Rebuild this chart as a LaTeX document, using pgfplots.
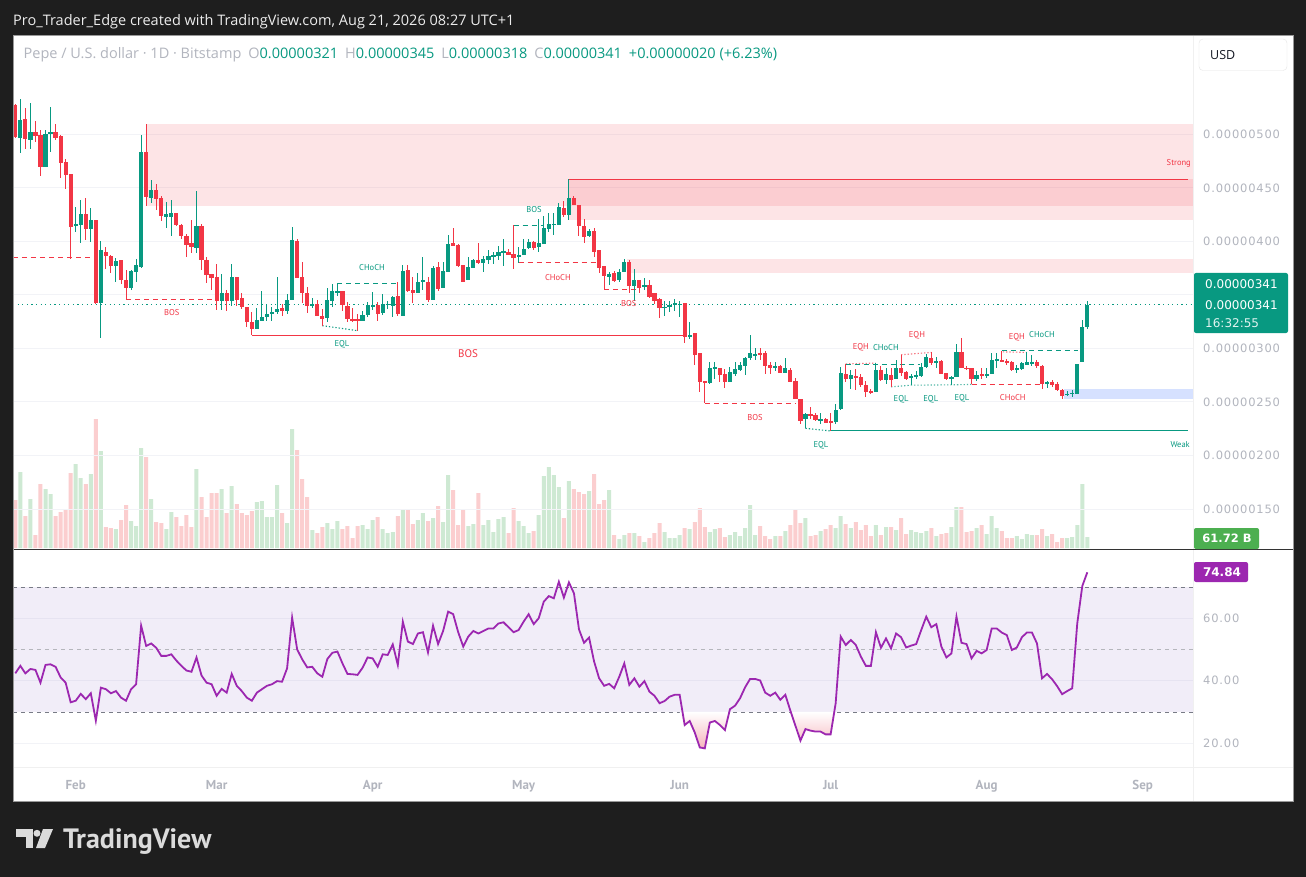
\documentclass[border=0pt]{standalone}
\usepackage{fontspec}
\setmainfont{PT Sans}
\newfontfamily\hdrf{Open Sans}
\newfontfamily\scalef{DejaVu Sans}[LetterSpace=7]
\newfontfamily\numf{DejaVu Sans}
\usepackage{pgfplots}
\usepackage{pgfplotstable}
\pgfplotsset{compat=1.18}
\definecolor{bgdark}{RGB}{30,30,30}
\definecolor{tvup}{RGB}{8,153,129}
\definecolor{tvdn}{RGB}{242,54,69}
\definecolor{volup}{RGB}{206,233,211}
\definecolor{voldn}{RGB}{251,206,207}
\definecolor{scaleg}{RGB}{178,181,190}
\definecolor{gridc}{RGB}{242,243,247}
\definecolor{rsic}{RGB}{156,39,176}
\definecolor{bandc}{RGB}{126,87,194}
\definecolor{dashg}{RGB}{120,123,134}
\definecolor{volg}{RGB}{76,175,80}
\definecolor{txtdark}{RGB}{19,23,34}
\definecolor{logoc}{RGB}{219,219,219}
\definecolor{zoneblue}{RGB}{41,98,255}
\definecolor{osred}{RGB}{246,180,188}

\pgfplotstableread{
d o h l c v
-11 496.9 533.2 482.8 513.5 76
-9 495 529.1 486.3 502.2 49
-6 469.7 504 469.7 500.3 59
-5 500 525.7 483.8 502.2 54
0 414.4 432.2 408.8 416 84
1 415 438.5 398.5 425.4 70
3 411.6 431 399.4 419.7 74
5 342.2 400.4 309.4 391.6 97
8 376.9 384.7 361.9 381.3 19
11 356.3 373 355 371.9 27
12 371.3 383.8 361.9 377.5 22
13 376 499.4 375 483.5 100
15 441 457.2 436.3 447.8 49
18 422.8 437 412.5 426 19
19 422.8 439 405 426.3 36
24 393.8 446.9 389.1 414.1 79
29 344.7 370 336.3 352.2 59
31 344.7 378.8 339.4 366.3 62
36 317.9 338.2 317.9 326.6 46
37 325.4 353.2 325.4 329.7 47
38 329.1 341.6 325.4 332.5 31
39 332.9 339.1 326 333.8 31
40 333.8 367.2 332.2 336.9 63
42 334.7 351 332.2 345.7 25
43 345.7 413.5 345.7 401 119
47 340.5 346.9 337.5 341.3 18
50 328.2 356.9 325 345.7 25
51 344.7 360.4 338.5 353.2 19
52 352.5 360.4 349.4 353.2 27
57 326 335.4 326 331.3 23
58 331.3 343.8 329.7 340.7 19
59 339.1 352.5 336 340.7 28
61 332.9 351 331.3 341.6 19
62 340.7 344.7 336.9 341.6 15
63 340 349.4 329.1 348.5 16
65 330.7 377.5 330.7 371.9 39
68 351.6 370.4 351.6 362.5 28
69 361.9 385.4 354.7 363.5 35
71 345.7 376.9 345.7 375 30
73 356.3 380.4 356.3 371.9 26
74 371 405.7 371 397.9 73
78 363.5 385 363.5 376 22
79 375 383.8 375 382.2 24
81 379.7 386 371 383.2 23
82 382.9 392.2 379.1 386 28
83 386 390 379.1 386.9 16
84 386.3 395.7 382.2 389.7 29
85 389.7 401.9 376.6 390.7 31
88 385 394.7 380 386.9 27
89 386.9 401.9 386.9 392.5 22
90 393.8 401.9 392.5 399.4 15
92 394.7 421.3 390 398.5 33
93 397.9 423.5 397.9 412.5 72
94 411.9 426.9 408.8 416.6 81
95 415.7 426.9 406.3 416.3 73
96 415.7 435.4 415.7 432.2 61
98 425 457.9 420.4 441 67
102 405 411.3 404.1 409.4 57
106 366.6 371.3 359.4 369.4 58
108 363.5 374.4 361.9 371 9
109 371 383.5 371 380.4 13
111 358.8 373.8 344.7 363.5 15
113 357.2 366 355 359.7 6
117 337.5 344.7 330.7 339.1 16
118 338.5 344.7 333.8 340.7 10
119 340.7 346 335.4 342.2 10
120 341 344.7 329.7 341.6 13
122 311.3 325 308.8 312.5 19
126 267.5 286.9 266.6 281.3 16
127 281.6 286.9 271.3 282.2 19
130 269.1 282.9 269.1 278.2 13
131 276 286.9 274.4 280.7 16
132 280.1 287.5 279.1 284.7 12
133 283.8 291.6 275.4 290.7 20
134 290.7 312.8 289.1 295.4 43
135 293.8 300.7 289.1 294.7 13
139 282.2 286.9 278.5 283.8 12
141 277.5 290.7 277.5 281.3 17
145 234.4 240 225.4 238.5 30
148 233.2 240 229.1 233.8 17
151 231.3 248.5 229.1 242.2 20
152 243.8 282.9 242.9 277.2 32
154 271.9 279.7 262.5 275.4 20
159 259.4 286.3 259.4 280.1 23
161 270.4 282.2 267.2 276 21
163 271.3 289.4 271.3 281.3 18
166 272.2 276 265.7 274.4 18
167 272.9 279.1 271.3 275.1 16
168 274.4 286 273.5 282.9 15
169 282.9 294.7 281.6 291.6 17
171 286.9 291.6 282.2 288.5 12
174 271.3 274.4 266 273.5 21
175 272.9 304.1 272.9 296.9 41
179 271.9 279.1 269.7 275.4 20
181 274 281.6 272 276.6 14
182 276.6 295.9 276.6 289.1 32
183 289.1 295.9 282.2 289.7 20
187 280.4 284.7 277.5 281.3 12
188 280.7 286.9 280.1 286 9
189 284.4 296.3 284.4 286.9 14
190 286.3 293.8 283.8 286.9 13
193 266.6 269.7 263.5 268.8 12
197 256.6 260.4 255.7 257.9 10
198 257.2 261.3 254.7 258.8 11
199 257.9 285.4 257.2 285.4 23
200 286.9 326.6 286.9 320.4 64
201 319.7 344.7 317.9 340.9 11
}\upc

\pgfplotstableread{
d o h l c v
-12 527.5 528.5 497 497.9 48
-10 514.4 524.4 486.3 495.4 32
-8 502.2 512.5 493.2 498.8 13
-7 499.4 504.1 461 469.7 64
-4 502.2 509.7 494.7 496.9 32
-3 498.5 499 459.4 472.9 36
-2 474.1 476.9 449.1 461.9 39
-1 462.9 463 383.8 413.5 75
2 425.4 440.7 401 411.6 64
4 419.7 420 341.6 342.2 129
6 389.7 394.4 374.4 386.3 21
7 386 387 370.7 376.9 20
9 382.2 382.2 360.4 363.5 28
10 364.4 372.9 345.4 356.3 43
14 483.5 509.7 433.2 441.6 91
16 447.8 453.2 429.7 439.7 26
17 440.7 442.2 419.1 423.5 25
20 426.3 426.3 414 415.3 31
21 415.3 416 402.5 405 22
22 405 407 385.4 396.3 33
23 398.5 419.7 389.1 394.7 21
25 414.1 416.6 372.9 382.2 51
26 382.2 385 361 368.8 31
27 369.4 370 355 365.7 55
28 366.3 378.8 336.3 344.1 55
30 352.2 355 334.7 344.7 35
32 366.3 366.3 340 345.4 44
33 347.5 352.2 336.9 338.5 35
34 339.1 339.1 319.7 324.4 33
35 325 334.4 312.5 317.9 37
41 337.5 341.6 330.7 334.7 35
44 400 401.9 365.7 365.7 98
45 366.3 380.4 342.9 351.6 69
46 351.6 357.2 332.9 339.4 51
48 341.6 345.7 330.7 330.7 15
49 330.7 336.9 321.3 327.2 21
53 353.2 354.1 335.4 340.7 19
54 340 343.8 325 327.2 22
55 327.2 338 325 326 10
56 327.2 332 316.6 326 22
60 340.7 343.2 326 331.9 31
64 349.4 362.5 330.4 331.9 32
66 372.9 377.5 352.5 353.2 39
67 355 367.2 342.9 351.6 24
70 362.5 366.3 343.8 345.4 27
72 375.7 380.4 354.1 355.4 42
75 398.5 412.5 395.4 395.4 58
76 396.9 397.9 376 376.6 23
77 377.5 377.5 361.9 362.5 38
80 382.2 398.5 379.1 379.7 55
86 390 393.2 386.9 387.5 15
87 387.9 415 374.4 384.4 40
91 399.4 400.4 391.6 393.8 17
97 431.3 437.5 422.8 424.4 30
99 441 442.2 433.8 434.4 59
100 433.8 434.4 405 414.4 56
101 414.1 421.3 398.8 404.1 54
103 409.4 412.5 385.4 390 74
104 391.6 392.2 370.4 375 44
105 376.6 376.6 354.7 367.5 48
107 370.4 371.9 361.9 362.9 13
110 380.4 382.2 351.9 358.8 15
112 364.4 364.4 351.6 356.3 12
114 359.7 364.4 347.2 348.5 10
115 351.6 351.6 341.6 344.7 15
116 346.3 347.2 328.2 337.5 25
121 342.2 342.2 304.7 310.4 20
123 314.1 314.1 284.7 294.1 26
124 295.7 295.7 259.4 268.2 40
125 269.7 269.7 248.8 267.5 21
128 281.3 281.3 269.1 275.4 20
129 276 280.7 263.5 268.2 11
136 296 300.7 289.1 293.8 22
137 295.4 297.2 276.6 283.8 12
138 284.7 286.9 276.6 282.2 9
140 283.8 284.7 277.5 277.5 12
142 279.7 281.6 269.1 269.1 23
143 269.7 272.2 252.9 252.9 38
144 252.9 252.9 229.1 232.2 25
146 238.5 245.4 234.4 236.6 12
147 237.9 240 232.2 233.2 13
149 233.8 234.7 230 230.7 19
150 232.2 240 222.9 230.7 23
153 276.6 285.4 268.2 271.9 24
155 274.4 280.7 261 272.9 26
156 273.8 276 264.4 265.7 18
157 266 269.7 255 259.4 23
158 260.4 262.5 257.2 258.8 12
160 280.1 283.2 269.7 270.4 13
162 275.4 282.2 264.1 270.4 21
164 281.3 294.1 274.4 277.5 30
165 278.2 279.1 270.7 271.9 14
170 290.7 296.3 284.7 286 20
172 288.5 289.1 276 276.6 14
173 277.5 277.5 270.4 271.3 15
176 296.9 309.7 281.6 281.6 41
177 282.2 283.8 279.7 280.7 16
178 281.3 282.2 266.6 271.3 17
180 276.6 281.6 271.3 274.4 23
184 289.1 297.8 286.9 286.9 17
185 288.5 290 284.7 286 10
186 286.9 287.9 279.1 279.7 10
191 286.9 289.1 282.2 283.5 13
192 283.2 284.7 262.5 266.6 19
194 268.8 270.7 264.1 265.7 14
195 266.6 268.8 260.4 261 6
196 261.3 261.9 253.2 255.7 10
}\dnc

\pgfplotstableread{
d r
-12 42.4
-11 44.8
-10 42.4
-9 43.8
-8 43.5
-7 39.4
-6 45.1
-5 45.3
-4 44.5
-3 41.1
-2 39.4
-1 33.1
0 33.6
1 35.8
2 34.1
3 36.0
4 27.2
5 37.8
6 37.3
7 36.0
8 36.7
9 34.6
10 33.6
11 37.3
12 38.9
13 57.7
14 51.2
15 52.0
16 50.6
17 48.0
18 48.0
19 48.5
20 46.5
21 44.8
22 43.3
23 42.9
24 47.5
25 41.7
26 39.4
27 38.9
28 35.2
29 37.4
30 36.2
31 42.2
32 38.4
33 36.7
34 34.6
35 33.6
36 36.2
37 37.3
38 38.4
39 38.9
40 39.9
41 39.7
42 44.0
43 60.3
44 50.1
45 46.9
46 44.3
47 44.5
48 42.4
49 41.3
50 47.0
51 49.0
52 49.4
53 45.6
54 42.2
55 42.1
56 41.9
57 44.2
58 47.5
59 47.2
60 44.5
61 48.5
62 48.3
63 51.7
64 45.1
65 59.0
66 52.6
67 51.8
68 55.2
69 55.6
70 49.1
71 57.7
72 51.8
73 56.0
74 62.2
75 61.4
76 55.6
77 51.0
78 54.2
79 56.0
80 55.2
81 56.0
82 56.8
83 56.8
84 58.4
85 58.8
86 57.2
87 55.6
88 56.3
89 59.0
90 61.4
91 58.2
92 60.1
93 65.4
94 67.2
95 66.5
96 71.8
97 66.7
98 71.6
99 68.1
100 56.5
101 52.2
102 53.9
103 46.2
104 40.8
105 38.4
106 39.0
107 37.6
108 41.3
109 45.6
110 38.7
111 40.8
112 38.1
113 39.9
114 36.5
115 35.2
116 32.8
117 33.5
118 34.9
119 35.5
120 35.5
121 25.8
122 27.1
123 23.4
124 18.6
125 18.3
126 26.6
127 27.1
128 25.8
129 24.2
130 30.9
131 32.0
132 34.4
133 37.9
134 40.6
135 40.6
136 40.1
137 36.2
138 35.2
139 36.2
140 33.9
141 35.5
142 30.4
143 25.6
144 20.8
145 24.5
146 24.0
147 23.7
148 23.7
149 22.8
150 22.8
151 32.8
152 54.2
153 51.5
154 53.1
155 51.5
156 47.8
157 44.8
158 44.8
159 55.6
160 50.6
161 53.6
162 50.4
163 55.2
164 54.0
165 50.7
166 51.3
167 51.8
168 56.3
169 60.6
170 57.2
171 58.2
172 51.0
173 47.5
174 48.8
175 60.6
176 52.2
177 51.8
178 47.2
179 49.6
180 48.8
181 49.9
182 56.8
183 56.8
184 55.5
185 54.7
186 49.9
187 50.7
188 54.0
189 55.5
190 55.5
191 52.0
192 40.8
193 42.2
194 40.5
195 38.3
196 35.7
197 36.7
198 37.6
199 58.4
200 70.4
201 74.84
}\rsitab

\tikzset{
  lbu/.style={font=\fontsize{8.5}{9}\selectfont, text=tvup, inner sep=0pt},
  lbd/.style={font=\fontsize{8.5}{9}\selectfont, text=tvdn, inner sep=0pt},
  dsh/.style={line width=1pt, dash pattern=on 5pt off 4pt},
  dtt/.style={line width=1.1pt, dash pattern=on 1.3pt off 2pt},
}
\pgfplotsset{candle/.style={only marks, mark=*, mark size=0pt,
  mark options={draw opacity=0, fill opacity=0},
  error bars/.cd, y dir=both, y explicit, error mark=none}}

\begin{document}
\begin{tikzpicture}
\fill[bgdark] (0pt,0pt) rectangle (1306pt,-877pt);
\fill[white] (13pt,-35pt) rectangle (1293pt,-801pt);

% ---------- volume ----------
\begin{axis}[at={(13pt,-548pt)}, anchor=south west, scale only axis,
  width=1180pt, height=513pt, xmin=-12.46, xmax=222, ymin=0, ymax=513,
  axis lines=none, xtick=\empty, ytick=\empty]
\addplot[ybar, bar width=4pt, bar shift=0pt, fill=volup, draw=none] table[x=d,y=v]{\upc};
\addplot[ybar, bar width=4pt, bar shift=0pt, fill=voldn, draw=none] table[x=d,y=v]{\dnc};
\end{axis}

% ---------- price ----------
\begin{axis}[at={(13pt,-548pt)}, anchor=south west, scale only axis,
  width=1180pt, height=513pt, xmin=-12.46, xmax=222, ymin=113.6, ymax=592.8,
  axis line style={draw=none}, major tick length=0pt,
  xtick=\empty, ytick={150,200,250,300,350,400,450,500},
  yticklabels={0.00000150,0.00000200,0.00000250,0.00000300,0.00000350,0.00000400,0.00000450,0.00000500},
  yticklabel pos=right,
  yticklabel style={font=\scalef\fontsize{11.5}{12}\selectfont, text=scaleg, anchor=west, inner sep=0pt, xshift=10pt},
  ymajorgrids=true, grid style={draw=gridc, line width=1pt}]
% zones
\fill[tvdn, opacity=0.13] (axis cs:14.2,433.2) rectangle (axis cs:222,509.7);
\fill[tvdn, opacity=0.13] (axis cs:98,420.4) rectangle (axis cs:222,457.9);
\fill[tvdn, opacity=0.13] (axis cs:109.5,370.4) rectangle (axis cs:222,383.2);
\fill[zoneblue, opacity=0.19] (axis cs:196.4,253.2) rectangle (axis cs:222,262.5);
% structure lines
\draw[tvdn, line width=1pt] (axis cs:98,441.6) -- (axis cs:98,457.9) -- (axis cs:221,457.9);
\draw[tvdn, dsh] (axis cs:-12.46,384.7) -- (axis cs:3.5,384.7);
\draw[tvdn, dsh] (axis cs:10,345.4) -- (axis cs:27.5,345.4);
\draw[tvdn, line width=1pt] (axis cs:35,312.5) -- (axis cs:121,312.5);
\draw[tvup, dtt] (axis cs:49,321.3) -- (axis cs:56,316.6);
\draw[tvup, dsh] (axis cs:52,360.4) -- (axis cs:64,360.4);
\draw[tvup, dsh] (axis cs:87,415) -- (axis cs:93,415);
\draw[tvdn, dsh] (axis cs:88,380) -- (axis cs:103.6,380);
\draw[tvdn, dsh] (axis cs:105,354.7) -- (axis cs:111.7,354.7);
\draw[tvdn, dsh] (axis cs:125,248.8) -- (axis cs:142.9,248.8);
\draw[tvup, dtt] (axis cs:145,225.4) -- (axis cs:150,222.9);
\draw[tvup, line width=1pt] (axis cs:150,222.9) -- (axis cs:221,222.9);
\draw[tvdn!70, dtt] (axis cs:153,285.6) -- (axis cs:159,286.3);
\draw[tvup, dsh] (axis cs:153,285.4) -- (axis cs:167.8,285.4);
\draw[tvdn!70, dtt] (axis cs:164,294.1) -- (axis cs:170,296.3);
\draw[tvup!70, dtt] (axis cs:162,264.1) -- (axis cs:166,265.7) -- (axis cs:174,266) -- (axis cs:178,266.4);
\draw[tvdn, dsh] (axis cs:178,266.6) -- (axis cs:191.6,266.6);
\draw[tvup, dsh] (axis cs:184,297.8) -- (axis cs:199.1,297.8);
\draw[tvdn!70, dtt] (axis cs:184.2,296.8) -- (axis cs:189,296.3);
% last price line
\draw[tvup, line width=1.2pt, dash pattern=on 1.2pt off 3.4pt] (axis cs:-12.46,340.9) -- (axis cs:222,340.9);
% candles: wicks
\addplot[candle, error bar style={draw=tvup, line width=1pt}]
  table[x=d, y expr=(\thisrow{h}+\thisrow{l})/2, y error expr=(\thisrow{h}-\thisrow{l})/2]{\upc};
\addplot[candle, error bar style={draw=tvdn, line width=1pt}]
  table[x=d, y expr=(\thisrow{h}+\thisrow{l})/2, y error expr=(\thisrow{h}-\thisrow{l})/2]{\dnc};
% candles: bodies
\addplot[candle, error bar style={draw=tvup, line width=4.2pt}]
  table[x=d, y expr=(\thisrow{o}+\thisrow{c})/2, y error expr={max(abs(\thisrow{c}-\thisrow{o})/2,0.45)}]{\upc};
\addplot[candle, error bar style={draw=tvdn, line width=4.2pt}]
  table[x=d, y expr=(\thisrow{o}+\thisrow{c})/2, y error expr={max(abs(\thisrow{c}-\thisrow{o})/2,0.45)}]{\dnc};
% labels
\node[lbd] at (axis cs:19.07,333.4) {BOS};
\node[font=\fontsize{11}{12}\selectfont, text=tvdn, inner sep=0pt] at (axis cs:77.94,295.4) {BOS};
\node[lbu] at (axis cs:52.9,304.1) {EQL};
\node[lbu] at (axis cs:58.87,376.0) {CHoCH};
\node[lbu] at (axis cs:91.05,430.2) {BOS};
\node[lbd] at (axis cs:95.82,366.7) {CHoCH};
\node[lbd] at (axis cs:109.9,341.8) {BOS};
\node[lbd] at (axis cs:134.96,235.9) {BOS};
\node[lbu] at (axis cs:148.07,209.8) {EQL};
\node[lbd] at (axis cs:156.0,301.3) {EQH};
\node[lbu] at (axis cs:160.99,300.7) {CHoCH};
\node[lbd] at (axis cs:167.15,312.5) {EQH};
\node[lbu] at (axis cs:164.0,252.8) {EQL};
\node[lbu] at (axis cs:169.9,252.8) {EQL};
\node[lbu] at (axis cs:176.1,253.7) {EQL};
\node[lbd] at (axis cs:186.2,254.0) {CHoCH};
\node[lbd] at (axis cs:187.0,310.6) {EQH};
\node[lbu] at (axis cs:192.0,313.4) {CHoCH};
\node[lbd, anchor=east] at (axis cs:221.6,473.2) {Strong};
\node[lbu, anchor=east] at (axis cs:221.4,209.8) {Weak};
\end{axis}

% ---------- RSI ----------
\begin{axis}[at={(13pt,-768pt)}, anchor=south west, scale only axis,
  width=1180pt, height=218pt, xmin=-12.46, xmax=222, ymin=12, ymax=82,
  axis line style={draw=none}, major tick length=0pt,
  ytick={20,40,60}, yticklabels={20.00,40.00,60.00}, yticklabel pos=right,
  yticklabel style={font=\scalef\fontsize{11.5}{12}\selectfont, text=scaleg, anchor=west, inner sep=0pt, xshift=10pt},
  ymajorgrids=true, grid style={draw=gridc, line width=1pt},
  xtick={0,28,59,89,120,150,181,212},
  xticklabels={Feb,Mar,Apr,May,Jun,Jul,Aug,Sep},
  xticklabel style={font=\bfseries\fontsize{13}{13}\selectfont, text=scaleg, anchor=base, inner sep=0pt, yshift=-21.5pt}]
\fill[bandc, opacity=0.1] (axis cs:-12.46,30) rectangle (axis cs:222,70);
\draw[dashg, line width=0.9pt, dash pattern=on 4pt off 4pt] (axis cs:-12.46,70) -- (axis cs:222,70);
\draw[dashg!55, line width=0.9pt, dash pattern=on 4pt off 4pt] (axis cs:-12.46,50) -- (axis cs:222,50);
\draw[dashg, line width=0.9pt, dash pattern=on 4pt off 4pt] (axis cs:-12.46,30) -- (axis cs:222,30);
\addplot[draw=none, top color=white, bottom color=osred] table[x=d, y expr={min(\thisrow{r},30)}]{\rsitab} -- (axis cs:201,30) -- (axis cs:-12,30) -- cycle;
\addplot[rsic, line width=1.8pt] table[x=d,y=r]{\rsitab};
\end{axis}

% ---------- frame ----------
\draw[gray!12, line width=1pt] (1193.5pt,-35pt) -- (1193.5pt,-801pt);
\draw[gray!12, line width=1pt] (13pt,-767.5pt) -- (1293pt,-767.5pt);
\draw[black!80, line width=1.3pt] (13pt,-549.3pt) -- (1293pt,-549.3pt);
\draw[black!40, line width=0.8pt] (13pt,-35pt) rectangle (1293pt,-801pt);

% ---------- scale boxes ----------
\filldraw[fill=white, draw=black!10, rounded corners=4pt] (1199pt,-39pt) rectangle (1287pt,-70.5pt);
\node[anchor=west, inner sep=0pt, text=txtdark, font=\hdrf\fontsize{12.5}{13}\selectfont] at (1210pt,-55pt) {USD};
\fill[tvup, rounded corners=2pt] (1194pt,-273pt) rectangle (1288pt,-333pt);
\node[anchor=west, inner sep=0pt, text=white, font=\numf\fontsize{12}{12}\selectfont] at (1205pt,-284pt) {0.00000341};
\node[anchor=west, inner sep=0pt, text=white, font=\numf\fontsize{12}{12}\selectfont] at (1205pt,-305pt) {0.00000341};
\node[anchor=west, inner sep=0pt, text=white!88!tvup, font=\numf\fontsize{12}{12}\selectfont] at (1205pt,-323pt) {16:32:55};
\fill[volg, rounded corners=2pt] (1194pt,-528pt) rectangle (1259pt,-549pt);
\node[inner sep=0pt, text=white, font=\numf\bfseries\fontsize{11.5}{12}\selectfont] at (1227pt,-538.5pt) {61.72 B};
\fill[rsic, rounded corners=2pt] (1194pt,-562pt) rectangle (1248pt,-582pt);
\node[inner sep=0pt, text=white, font=\numf\bfseries\fontsize{12}{12}\selectfont] at (1222pt,-572pt) {74.84};

% ---------- header ----------
\node[anchor=base west, inner sep=0pt, text=white!93!black, font=\hdrf\fontsize{14.5}{15}\selectfont] at (13pt,-26pt) {Pro\_Trader\_Edge created with TradingView.com, Aug 21, 2026 08:27 UTC+1};
\node[anchor=base west, inner sep=0pt, font=\hdrf\fontsize{14.5}{15}\selectfont] at (23.5pt,-58.3pt) {{\color{scaleg}Pepe / U.S. dollar · 1D · Bitstamp}\hspace{7pt}{\color{scaleg}O}{\color{tvup}0.00000321}\hspace{7pt}{\color{scaleg}H}{\color{tvup}0.00000345}\hspace{7pt}{\color{scaleg}L}{\color{tvup}0.00000318}\hspace{7pt}{\color{scaleg}C}{\color{tvup}0.00000341}\hspace{7pt}{\color{tvup}+0.00000020 (+6.23\%)}};

% ---------- footer logo ----------
\fill[logoc] (15.7pt,-829pt) rectangle (33pt,-836.5pt);
\fill[logoc] (25.5pt,-829pt) rectangle (33pt,-848pt);
\fill[logoc] (37pt,-833.3pt) circle (3.5pt);
\fill[logoc] (43pt,-829pt) -- (53pt,-829pt) -- (45pt,-848pt) -- (36pt,-848pt) -- cycle;
\node[anchor=base west, inner sep=0pt, text=logoc, font=\bfseries\fontsize{28}{28}\selectfont] at (63pt,-848pt) {TradingView};
\pgfresetboundingbox
\useasboundingbox (0pt,0pt) rectangle (1306pt,-877pt);
\end{tikzpicture}
\end{document}
